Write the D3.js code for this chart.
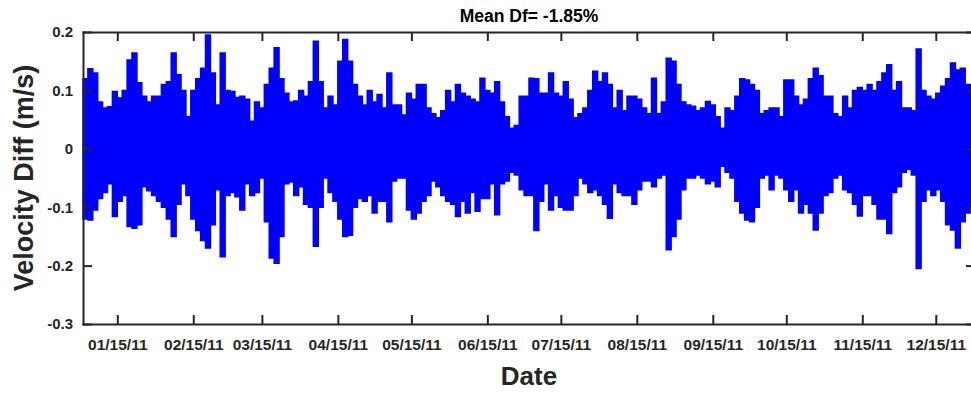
<!DOCTYPE html>
<html lang="en">
	<head>
		<meta charset="utf-8">
		<title>velocity diff</title>
		<script type="text/javascript" src="https://d3js.org/d3.v7.min.js"></script>
		<style type="text/css">
            body{margin:0;overflow:hidden;background:#fff;font-family:"Liberation Sans",Arial,Helvetica,sans-serif;}
            .axis text{font-family:"Liberation Sans",Arial,sans-serif;font-weight:bold;font-size:15px;fill:#262626;}
            .xaxis text{font-size:15.5px;}
            .axis path,.axis line{stroke:#262626;stroke-width:2;}
            .label{font-weight:bold;fill:#262626;}
		</style>
	</head>
	<body>
    <div id="chart1"></div>
		<script type="text/javascript">
            //2-day envelope of the velocity difference (m/s)
            var startDate = "2011-01-01"
            var binDays = 2
            var velMax = [0.12,0.137,0.13,0.08,0.07,0.072,0.098,0.087,0.1,0.152,
                0.164,0.113,0.09,0.08,0.09,0.09,0.11,0.115,0.164,0.127,
                0.1,0.055,0.1,0.12,0.138,0.195,0.13,0.075,0.164,0.1,
                0.098,0.088,0.09,0.085,0.047,0.08,0.07,0.11,0.138,0.173,
                0.12,0.095,0.08,0.082,0.1,0.09,0.115,0.184,0.115,0.07,
                0.09,0.075,0.15,0.187,0.15,0.11,0.09,0.075,0.1,0.08,
                0.093,0.07,0.13,0.075,0.075,0.058,0.095,0.085,0.11,0.11,
                0.07,0.06,0.053,0.065,0.1,0.08,0.11,0.095,0.09,0.085,
                0.08,0.121,0.1,0.095,0.115,0.08,0.055,0.035,0.04,0.09,
                0.09,0.121,0.12,0.095,0.095,0.13,0.095,0.09,0.115,0.085,
                0.053,0.06,0.07,0.1,0.133,0.115,0.13,0.11,0.07,0.1,
                0.065,0.09,0.09,0.085,0.07,0.06,0.121,0.06,0.08,0.155,
                0.15,0.11,0.08,0.075,0.073,0.065,0.07,0.081,0.075,0.055,
                0.035,0.07,0.065,0.09,0.12,0.118,0.11,0.1,0.06,0.065,
                0.07,0.07,0.055,0.118,0.118,0.09,0.075,0.085,0.12,0.138,
                0.125,0.09,0.09,0.06,0.055,0.09,0.07,0.1,0.105,0.1,
                0.11,0.1,0.115,0.13,0.144,0.1,0.115,0.07,0.07,0.065,
                0.171,0.1,0.09,0.085,0.095,0.107,0.12,0.147,0.135,0.138,
                0.11,0.11,0.1]
            var velMin = [-0.12,-0.122,-0.105,-0.085,-0.075,-0.06,-0.116,-0.09,-0.08,-0.133,
                -0.136,-0.13,-0.065,-0.072,-0.08,-0.09,-0.1,-0.12,-0.15,-0.095,
                -0.06,-0.08,-0.12,-0.14,-0.157,-0.17,-0.13,-0.07,-0.185,-0.08,
                -0.075,-0.082,-0.105,-0.06,-0.08,-0.075,-0.05,-0.125,-0.187,-0.196,
                -0.15,-0.06,-0.057,-0.08,-0.065,-0.095,-0.1,-0.167,-0.1,-0.05,
                -0.075,-0.09,-0.12,-0.15,-0.148,-0.1,-0.085,-0.09,-0.08,-0.11,
                -0.09,-0.09,-0.125,-0.055,-0.05,-0.05,-0.105,-0.12,-0.11,-0.09,
                -0.08,-0.055,-0.065,-0.08,-0.09,-0.095,-0.116,-0.09,-0.11,-0.075,
                -0.107,-0.085,-0.085,-0.06,-0.113,-0.06,-0.055,-0.04,-0.045,-0.07,
                -0.08,-0.08,-0.14,-0.09,-0.06,-0.105,-0.08,-0.1,-0.105,-0.105,
                -0.08,-0.05,-0.06,-0.075,-0.07,-0.08,-0.095,-0.119,-0.06,-0.075,
                -0.08,-0.08,-0.095,-0.07,-0.055,-0.055,-0.065,-0.05,-0.045,-0.173,
                -0.15,-0.12,-0.07,-0.05,-0.05,-0.045,-0.05,-0.06,-0.055,-0.065,
                -0.03,-0.04,-0.05,-0.09,-0.11,-0.122,-0.125,-0.1,-0.05,-0.045,
                -0.07,-0.045,-0.05,-0.07,-0.09,-0.07,-0.11,-0.095,-0.11,-0.139,
                -0.11,-0.08,-0.075,-0.05,-0.045,-0.07,-0.075,-0.095,-0.115,-0.08,
                -0.08,-0.095,-0.12,-0.12,-0.145,-0.075,-0.065,-0.04,-0.035,-0.045,
                -0.205,-0.09,-0.07,-0.08,-0.07,-0.09,-0.13,-0.139,-0.17,-0.125,
                -0.11,-0.1,-0.09]

            var yTicks = [-0.3,-0.2,-0.1,0,0.1,0.2]
            var xTicks = ["2011-01-15","2011-02-15","2011-03-15","2011-04-15","2011-05-15","2011-06-15",
                "2011-07-15","2011-08-15","2011-09-15","2011-10-15","2011-11-15","2011-12-15"]
            var xRange = ["2011-01-01","2011-12-31"]
            var chartTitle = "Mean Df= -1.85%"
            var xTitle = "Date"
            var yTitle = "Velocity Diff (m/s)"

            var parse = d3.timeParse("%Y-%m-%d")
            var data = velMax.map(function(v,i){
                return {date:d3.timeDay.offset(parse(startDate),i*binDays),hi:v,lo:velMin[i]}
            })

            var W = 971, H = 393
            //plot box edges (window.top is reserved, so no plain "top")
            var boxL = 83, boxT = 32, boxR = 975, boxB = 324

            var svg = d3.select("#chart1")
                        .append("svg")
                        .attr("width",W)
                        .attr("height",H)

            var xScale = d3.scaleTime().domain(xRange.map(parse)).range([boxL,boxR])
            var yScale = d3.scaleLinear().domain([-0.3,0.2]).range([boxB,boxT])

            //the band: the line is so dense it reads as a filled envelope
            var area = d3.area()
                .curve(d3.curveStepAfter)
                .x(function(d){ return xScale(d.date) })
                .y0(function(d){ return yScale(d.lo) })
                .y1(function(d){ return yScale(d.hi) })

            svg.append("path")
                .datum(data)
                .attr("d",area)
                .attr("fill","#0000ff")
                .attr("stroke","#0000ff")
                .attr("stroke-width",1.5)

            //axes, ticks pointing inwards like matlab, box on all 4 sides
            var yAxis = d3.axisLeft(yScale).tickValues(yTicks).tickSize(-9).tickSizeOuter(0).tickPadding(10)
                .tickFormat(function(d){ return String(d) })
            svg.append("g").attr("class","axis")
                .attr("transform","translate("+boxL+",0)")
                .call(yAxis)

            svg.append("g").attr("class","axis")
                .attr("transform","translate("+boxR+",0)")
                .call(d3.axisRight(yScale).tickValues(yTicks).tickSize(-9).tickSizeOuter(0).tickFormat(""))

            var xAxis = d3.axisBottom(xScale).tickValues(xTicks.map(parse)).tickSize(-9).tickSizeOuter(0).tickPadding(15)
                .tickFormat(d3.timeFormat("%m/%d/%y"))
            svg.append("g").attr("class","axis xaxis")
                .attr("transform","translate(0,"+boxB+")")
                .call(xAxis)

            svg.append("g").attr("class","axis")
                .attr("transform","translate(0,"+boxT+")")
                .call(d3.axisTop(xScale).tickValues(xTicks.map(parse)).tickSize(-9).tickSizeOuter(0).tickFormat(""))

            svg.selectAll(".axis .domain").attr("stroke-linecap","square")

            //titles
            svg.append("text")
                .attr("x",(boxL+boxR)/2)
                .attr("y",22)
                .attr("text-anchor","middle")
                .style("font-weight","bold")
                .style("font-size","17.5px")
                .attr("fill","#000")
                .text(chartTitle)

            svg.append("text")
                .attr("class","label")
                .attr("x",(boxL+boxR)/2)
                .attr("y",385)
                .attr("text-anchor","middle")
                .style("font-size","26px")
                .text(xTitle)

            svg.append("text")
                .attr("class","label")
                .attr("transform","translate(33,"+(boxT+boxB)/2+") rotate(-90)")
                .attr("text-anchor","middle")
                .style("font-size","27px")
                .text(yTitle)
		</script>
	</body>
</html>
